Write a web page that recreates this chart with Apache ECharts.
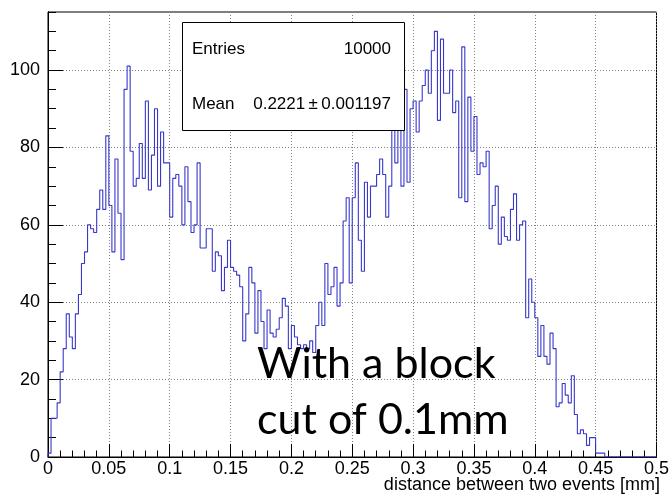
<!DOCTYPE html>
<html><head><meta charset="utf-8">
<script src="https://cdn.jsdelivr.net/npm/echarts@6/dist/echarts.min.js"></script>
<style>html,body{margin:0;padding:0;background:#fff}#c{width:672px;height:497px}</style>
</head><body><div id="c"></div>
<script>
const binWidth = 0.0025;
const counts = [
  1,10,10,14,22,28,37,31,28,37,
  42,50,53,60,59,58,64,69,64,83,
  65,53,77,63,51,95,101,79,70,72,
  81,72,92,69,78,90,70,84,76,76,
  62,72,73,70,60,75,66,58,60,76,
  54,54,59,59,48,53,52,43,49,56,
  49,48,47,44,30,37,49,45,32,43,
  35,28,38,32,31,33,36,41,39,28,
  34,31,29,28,29,28,30,27,34,40,
  34,50,42,44,49,39,45,61,67,45,
  67,76,56,48,71,62,70,70,73,77,
  73,62,70,88,76,86,70,95,71,90,
  92,84,92,96,100,94,105,110,87,108,
  94,94,100,89,92,67,106,66,93,79,
  88,73,76,75,79,59,65,70,55,62,
  57,56,64,68,56,60,61,36,46,40,
  36,26,34,26,24,32,28,13,14,19,
  16,14,21,11,6,7,6,3,5,5,
  1,1,1,0,0,0,0,0,0,0,
  0,0,0,0,0,0,0,0,0,0
];
const statsLabels = ['Entries', 'Mean'];
const statsValues = ['10000', '0.2221\u2009\u00b1\u20090.001197'];
const xTitle = 'distance between two events [mm]';
const noteLines = ['With a block', 'cut of 0.1mm'];

const pts = [[0, 0]];
counts.forEach((c, i) => pts.push([+(i * binWidth).toFixed(6), c]));
pts.push([+(counts.length * binWidth).toFixed(6), counts[counts.length - 1]]);

const font = 'Liberation Sans, Arial, sans-serif';
const grid = {left: 48, right: 10, top: 12, bottom: 40, show: true, borderColor: '#000', borderWidth: 1, backgroundColor: 'transparent'};
const dotted = {color: '#808080', width: 1, type: [1, 2]};

const chart = echarts.init(document.getElementById('c'), null, {renderer: 'canvas'});
chart.setOption({
  animation: false,
  backgroundColor: '#fff',
  grid: grid,
  xAxis: {
    type: 'value', min: 0, max: 0.5, interval: 0.05,
    axisLine: {show: true, onZero: false, lineStyle: {color: '#000', width: 1}},
    axisTick: {show: true, inside: true, length: 13, lineStyle: {color: '#000'}},
    minorTick: {show: true, splitNumber: 5, length: 6.5, lineStyle: {color: '#000'}},
    splitLine: {show: true, lineStyle: dotted},
    axisLabel: {fontFamily: font, fontSize: 18, color: '#000', margin: 3, showMaxLabel: true}
  },
  yAxis: [
    {
      type: 'value', min: 0, max: 115, interval: 5, position: 'left',
      axisLine: {show: true, onZero: false, lineStyle: {color: '#000'}},
      axisTick: {show: true, inside: true, length: 8, lineStyle: {color: '#000'}},
      axisLabel: {show: false},
      splitLine: {show: false}
    },
    {
      type: 'value', min: 0, max: 115, interval: 20, position: 'left', offset: 0,
      axisLine: {show: true, onZero: false, lineStyle: {color: '#000'}},
      axisTick: {show: true, inside: true, length: 15, lineStyle: {color: '#000'}},
      splitLine: {show: true, lineStyle: dotted},
      axisLabel: {fontFamily: font, fontSize: 18, color: '#000', margin: 8, showMaxLabel: false,
        formatter: v => (v % 20 === 0 ? String(v) : '')}
    }
  ],
  series: [{
    type: 'line', step: 'end', yAxisIndex: 1, data: pts,
    showSymbol: false, symbol: 'none', clip: true,
    lineStyle: {color: '#3838cc', width: 1.1}, z: 3
  }],
  graphic: [
    {type: 'rect', z: 100, shape: {x: 182.5, y: 22.5, width: 222, height: 108},
     style: {fill: '#fff', stroke: '#000', lineWidth: 1}},
    {type: 'text', z: 101, style: {text: statsLabels[0], x: 192, y: 49, font: '17px ' + font, fill: '#000', textAlign: 'left', textVerticalAlign: 'middle'}},
    {type: 'text', z: 101, style: {text: statsValues[0], x: 391, y: 49, font: '17px ' + font, fill: '#000', textAlign: 'right', textVerticalAlign: 'middle'}},
    {type: 'text', z: 101, style: {text: statsLabels[1], x: 192, y: 104, font: '17px ' + font, fill: '#000', textAlign: 'left', textVerticalAlign: 'middle'}},
    {type: 'text', z: 101, style: {text: statsValues[1], x: 391, y: 104, font: '17px ' + font, fill: '#000', textAlign: 'right', textVerticalAlign: 'middle'}},
    {type: 'text', z: 101, style: {text: xTitle, x: 660, y: 485, font: '18px ' + font, fill: '#000', textAlign: 'right', textVerticalAlign: 'middle'}},
    {type: 'text', z: 102, style: {text: noteLines[0], x: 257, y: 364, font: '43px Lato, sans-serif', fill: '#000', textAlign: 'left', textVerticalAlign: 'middle'}},
    {type: 'text', z: 102, style: {text: noteLines[1], x: 257, y: 420, font: '43px Lato, sans-serif', fill: '#000', textAlign: 'left', textVerticalAlign: 'middle'}}
  ]
});
</script>
</body></html>
